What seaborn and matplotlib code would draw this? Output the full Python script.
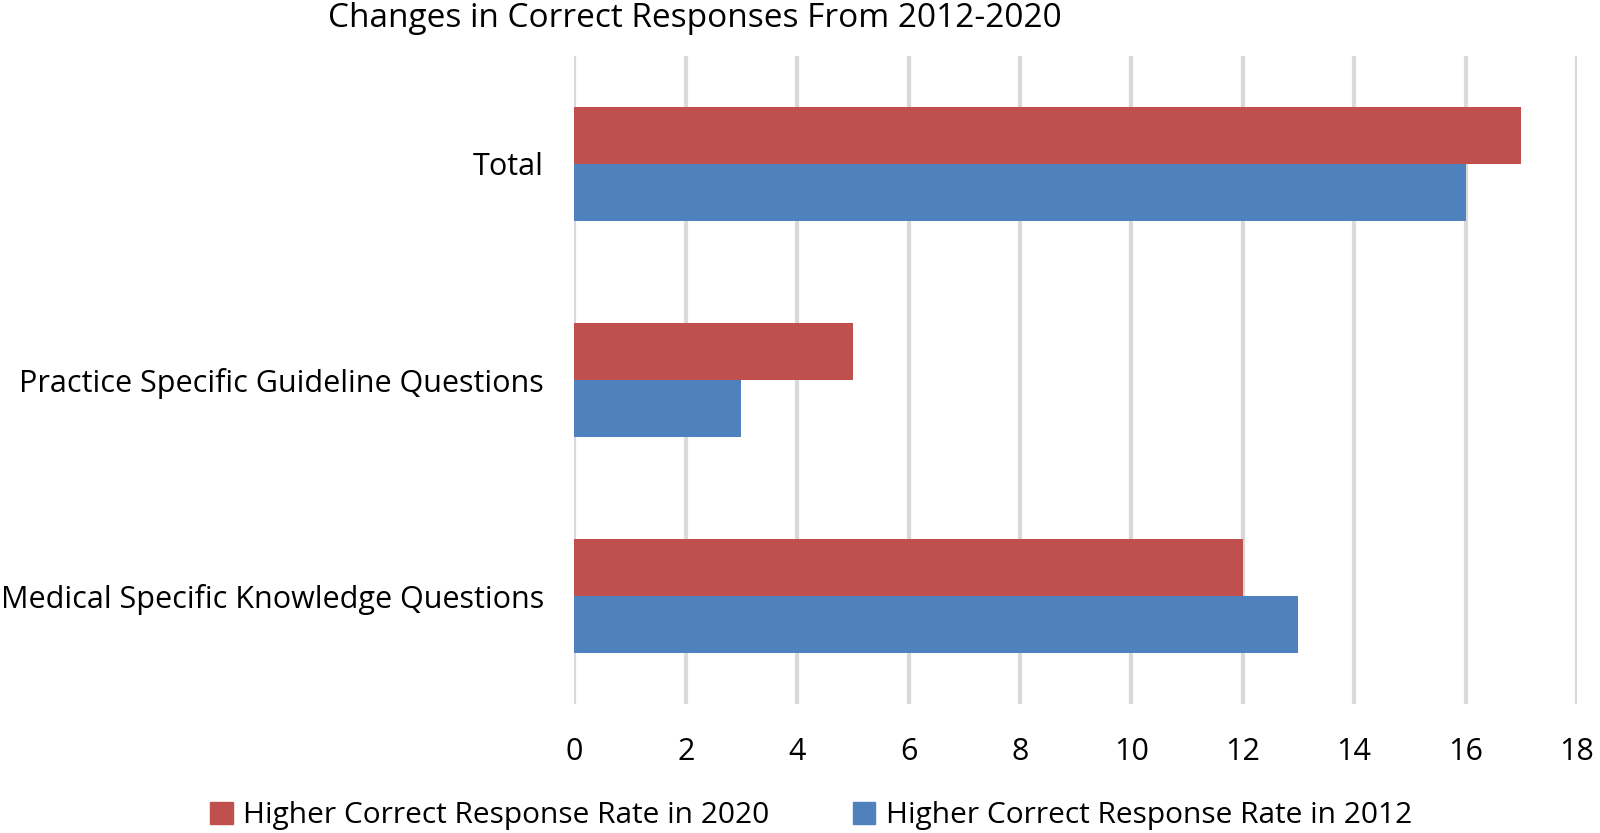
import matplotlib
matplotlib.use("Agg")
import matplotlib.pyplot as plt
import seaborn as sns
import pandas as pd

# --- data ---
categories = ["Total", "Practice Specific Guideline Questions", "Medical Specific Knowledge Questions"]
series_names = ["Higher Correct Response Rate in 2020", "Higher Correct Response Rate in 2012"]
higher_2020 = [17, 5, 12]
higher_2012 = [16, 3, 13]
x_ticks = [0, 2, 4, 6, 8, 10, 12, 14, 16, 18]

colors = {"Higher Correct Response Rate in 2020": "#C0504D",
          "Higher Correct Response Rate in 2012": "#4F81BD"}

df = pd.DataFrame({
    "Category": categories * 2,
    "Series": [series_names[0]] * 3 + [series_names[1]] * 3,
    "Value": higher_2020 + higher_2012,
})

sns.set_theme(style="white")
plt.rcParams["font.family"] = ["Open Sans", "DejaVu Sans"]
plt.rcParams["text.color"] = "black"
plt.rcParams["xtick.color"] = "black"
plt.rcParams["ytick.color"] = "black"

fig = plt.figure(figsize=(16, 8.33), dpi=100)
ax = fig.add_axes([0.359, 0.155, 0.6266, 0.778])

sns.barplot(data=df, x="Value", y="Category", hue="Series", order=categories,
            hue_order=series_names, palette=colors, width=0.53, saturation=1,
            linewidth=0, ax=ax, legend=False)

ax.set_xlim(0, 18)
ax.set_ylim(2.5, -0.5)
ax.set_xticks(x_ticks)
ax.set_xticklabels([str(t) for t in x_ticks], fontsize=22)
ax.tick_params(axis="y", labelsize=22, length=0, pad=22)
ax.tick_params(axis="x", length=0, pad=24)
ax.set_xlabel("")
ax.set_ylabel("")
ax.grid(axis="x", color="#D9D9D9", linewidth=3)
ax.set_axisbelow(True)
for s in ax.spines.values():
    s.set_visible(False)

fig.text(0.434, 0.978, "Changes in Correct Responses From 2012-2020", fontsize=24,
         ha="center", va="center")

handles = [plt.Rectangle((0, 0), 1, 1, color=colors[n]) for n in series_names]
fig.legend(handles, series_names, loc="center", bbox_to_anchor=(0.507, 0.021),
           ncol=2, frameon=False, fontsize=21.5, handlelength=0.75, handleheight=0.75,
           handletextpad=0.35, columnspacing=2.8)

fig.savefig("out.png", dpi=100)
